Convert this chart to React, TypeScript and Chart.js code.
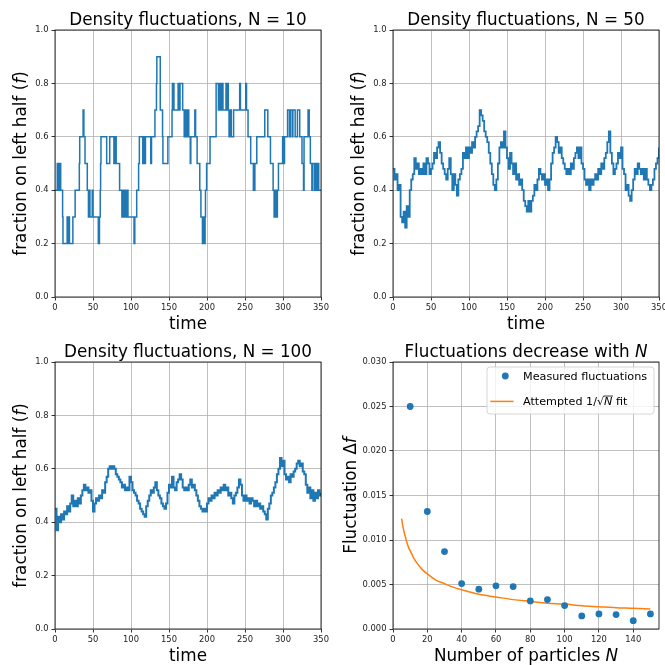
import React, { useEffect, useRef } from "react";
import { Chart, registerables } from "chart.js";
Chart.register(...registerables);

const FONT = '"DejaVu Sans", sans-serif';
const BLUE = "#1f77b4";
const ORANGE = "#ff7f0e";

// ---------- tick labels ----------
const timeTicks = [0, 50, 100, 150, 200, 250, 300, 350];
const fracTicks = [0, 0.2, 0.4, 0.6, 0.8, 1.0];
const particleTicks = [0, 20, 40, 60, 80, 100, 120, 140];
const flucTicks = [0, 0.005, 0.01, 0.015, 0.02, 0.025, 0.03];

// ---------- N = 10 (change points: value holds until next time) ----------
const times10 = [
  0, 3, 4, 4.5, 6, 6.5, 7.5, 10, 10.5, 16, 17, 18.5, 19, 23.5, 26.5, 32, 32.5, 37, 38, 39.5,
  42.5, 44, 45, 46, 49, 50, 57, 58.5, 59.5, 60, 60.5, 68, 72, 77.5, 78.5, 80.5, 85, 88, 89, 90.5,
  92, 93, 95, 96, 104, 105, 107.5, 110, 111, 115.5, 116.5, 118, 119, 126, 127, 131.5, 133.5, 134, 138.5, 141.5,
  142, 148.5, 154, 154.5, 156.5, 162, 164, 164.5, 168, 170, 172, 173, 175, 176, 178, 178.7, 184, 185, 187, 190.5,
  192, 194, 195, 195.5, 196.5, 197, 197.5, 198, 199.5, 204, 212, 215, 216, 218, 220, 221, 225, 226, 227, 228,
  229, 231, 232, 235, 243, 244, 251, 252, 254, 257.5, 261, 261.5, 262.5, 263, 265.5, 276, 280, 283.5, 287, 288.3,
  289, 289.5, 290.5, 291, 292.6, 294, 299.5, 301, 302, 306, 308.5, 309.5, 312, 313, 316, 319, 322, 325, 327, 327.7,
  333, 334.5, 336, 338, 338.5, 341, 342, 344, 345, 345.5, 346.5, 347, 350,
];
const values10 = [
  0.4, 0.5, 0.4, 0.5, 0.4, 0.5, 0.4, 0.3, 0.2, 0.3, 0.2, 0.3, 0.2, 0.3, 0.4, 0.5, 0.6, 0.7, 0.6, 0.5,
  0.4, 0.3, 0.4, 0.3, 0.4, 0.3, 0.2, 0.3, 0.4, 0.5, 0.6, 0.5, 0.6, 0.5, 0.6, 0.5, 0.4, 0.3, 0.4, 0.3,
  0.4, 0.3, 0.4, 0.3, 0.2, 0.3, 0.4, 0.5, 0.6, 0.5, 0.6, 0.5, 0.6, 0.5, 0.6, 0.7, 0.8, 0.9, 0.7, 0.6,
  0.5, 0.6, 0.7, 0.8, 0.7, 0.8, 0.7, 0.8, 0.7, 0.6, 0.7, 0.6, 0.7, 0.6, 0.5, 0.6, 0.7, 0.6, 0.5, 0.4,
  0.3, 0.2, 0.3, 0.2, 0.3, 0.2, 0.3, 0.4, 0.5, 0.6, 0.8, 0.7, 0.8, 0.7, 0.8, 0.7, 0.8, 0.7, 0.8, 0.7,
  0.6, 0.7, 0.6, 0.7, 0.8, 0.7, 0.8, 0.7, 0.6, 0.5, 0.4, 0.5, 0.4, 0.5, 0.6, 0.7, 0.6, 0.5, 0.4, 0.3,
  0.4, 0.3, 0.4, 0.3, 0.4, 0.5, 0.6, 0.5, 0.6, 0.7, 0.6, 0.7, 0.6, 0.7, 0.6, 0.7, 0.6, 0.5, 0.4, 0.6,
  0.7, 0.6, 0.5, 0.4, 0.5, 0.4, 0.5, 0.4, 0.5, 0.4, 0.5, 0.4, 0.4,
];

// ---------- N = 50 and N = 100 (sampled every 2 time units) ----------
const sampleStep = 2;
const values50 = [
  0.48, 0.44, 0.46, 0.40, 0.42, 0.30, 0.28, 0.32, 0.26, 0.34,
  0.30, 0.40, 0.44, 0.46, 0.52, 0.48, 0.50, 0.46, 0.48, 0.46,
  0.50, 0.46, 0.52, 0.50, 0.46, 0.48, 0.50, 0.54, 0.52, 0.56,
  0.58, 0.54, 0.50, 0.48, 0.46, 0.44, 0.48, 0.52, 0.46, 0.40,
  0.46, 0.42, 0.38, 0.44, 0.46, 0.48, 0.54, 0.52, 0.56, 0.52,
  0.56, 0.54, 0.58, 0.56, 0.60, 0.62, 0.64, 0.70, 0.68, 0.66,
  0.62, 0.60, 0.58, 0.54, 0.50, 0.46, 0.42, 0.40, 0.44, 0.50,
  0.56, 0.58, 0.56, 0.62, 0.56, 0.52, 0.48, 0.54, 0.50, 0.46,
  0.50, 0.44, 0.46, 0.42, 0.44, 0.40, 0.36, 0.34, 0.32, 0.36,
  0.32, 0.36, 0.38, 0.42, 0.40, 0.44, 0.48, 0.46, 0.44, 0.46,
  0.42, 0.44, 0.40, 0.44, 0.50, 0.54, 0.56, 0.60, 0.58, 0.54,
  0.56, 0.52, 0.50, 0.48, 0.46, 0.48, 0.46, 0.50, 0.48, 0.52,
  0.54, 0.56, 0.52, 0.56, 0.50, 0.48, 0.44, 0.42, 0.44, 0.40,
  0.44, 0.42, 0.44, 0.46, 0.44, 0.48, 0.46, 0.50, 0.48, 0.52,
  0.54, 0.58, 0.62, 0.54, 0.50, 0.46, 0.48, 0.50, 0.54, 0.52,
  0.56, 0.48, 0.46, 0.40, 0.42, 0.38, 0.36, 0.40, 0.44, 0.48,
  0.46, 0.50, 0.48, 0.46, 0.48, 0.44, 0.48, 0.44, 0.42, 0.40,
  0.42, 0.44, 0.48, 0.50, 0.52, 0.56,
];
const values100 = [
  0.45, 0.37, 0.42, 0.40, 0.43, 0.41, 0.44, 0.43, 0.46, 0.44,
  0.47, 0.50, 0.46, 0.48, 0.46, 0.49, 0.47, 0.50, 0.52, 0.54,
  0.52, 0.53, 0.51, 0.52, 0.48, 0.44, 0.47, 0.49, 0.48, 0.50,
  0.49, 0.52, 0.51, 0.55, 0.57, 0.60, 0.61, 0.60, 0.61, 0.60,
  0.58, 0.57, 0.56, 0.55, 0.53, 0.54, 0.52, 0.53, 0.52, 0.57,
  0.55, 0.52, 0.51, 0.50, 0.48, 0.47, 0.45, 0.44, 0.43, 0.42,
  0.46, 0.48, 0.50, 0.52, 0.51, 0.53, 0.55, 0.52, 0.50, 0.49,
  0.47, 0.46, 0.45, 0.47, 0.51, 0.54, 0.53, 0.57, 0.53, 0.52,
  0.55, 0.56, 0.58, 0.56, 0.53, 0.52, 0.53, 0.52, 0.54, 0.56,
  0.53, 0.54, 0.52, 0.50, 0.48, 0.46, 0.45, 0.44, 0.45, 0.44,
  0.47, 0.49, 0.48, 0.50, 0.49, 0.51, 0.50, 0.52, 0.51, 0.53,
  0.52, 0.54, 0.52, 0.53, 0.50, 0.51, 0.49, 0.47, 0.50, 0.51,
  0.53, 0.56, 0.54, 0.50, 0.48, 0.50, 0.48, 0.49, 0.47, 0.49,
  0.48, 0.46, 0.48, 0.46, 0.47, 0.45, 0.46, 0.44, 0.43, 0.41,
  0.45, 0.47, 0.50, 0.51, 0.53, 0.55, 0.58, 0.60, 0.64, 0.61,
  0.63, 0.58, 0.56, 0.57, 0.55, 0.58, 0.57, 0.59, 0.60, 0.62,
  0.63, 0.61, 0.62, 0.59, 0.58, 0.54, 0.51, 0.53, 0.49, 0.52,
  0.48, 0.51, 0.49, 0.52, 0.50, 0.51,
];

// ---------- fluctuations vs N ----------
const particleCounts = [10, 20, 30, 40, 50, 60, 70, 80, 90, 100, 110, 120, 130, 140, 150];
const measuredFluct = [
  0.0250, 0.0132, 0.0087, 0.0051, 0.00447, 0.00485, 0.00477, 0.00316, 0.00331, 0.00263,
  0.00147, 0.00169, 0.00162, 0.00094, 0.00169,
];
const fitCounts = [5, 6, 7, 8, 9, 10, 12, 14, 16, 18, 20, 25, 30, 35, 40, 50, 60, 70, 80, 90, 100, 110, 120, 130, 140, 150];
const fitFluct = [
  0.0124, 0.0113, 0.0105, 0.0098, 0.0092, 0.0088, 0.0080, 0.0074, 0.0069, 0.0065,
  0.0062, 0.0055, 0.0051, 0.0047, 0.0044, 0.0039, 0.0036, 0.0033, 0.0031, 0.0029,
  0.0028, 0.0026, 0.0025, 0.0024, 0.00234, 0.00226,
];

type Run = { t: string; i?: boolean; over?: boolean };

const legendLabels: Run[][] = [
  [{ t: "Measured fluctuations" }],
  [{ t: "Attempted 1/√" }, { t: "N", i: true, over: true }, { t: " fit" }],
];

function fontStr(size: number, italic?: boolean) {
  return `${italic ? "italic " : ""}${size}px ${FONT}`;
}

function drawRuns(ctx: CanvasRenderingContext2D, runs: Run[], size: number, x: number, y: number, rot: number, align: "center" | "left") {
  ctx.save();
  ctx.translate(x, y);
  if (rot) ctx.rotate(rot);
  ctx.textBaseline = "alphabetic";
  ctx.textAlign = "left";
  ctx.fillStyle = "#000";
  let total = 0;
  for (const r of runs) {
    ctx.font = fontStr(size, r.i);
    total += ctx.measureText(r.t).width;
  }
  let cx = align === "center" ? -total / 2 : 0;
  for (const r of runs) {
    ctx.font = fontStr(size, r.i);
    const w = ctx.measureText(r.t).width;
    ctx.fillText(r.t, cx, 0);
    if (r.over) {
      ctx.beginPath();
      ctx.moveTo(cx - 0.5, -0.8 * size);
      ctx.lineTo(cx + w + 0.5, -0.8 * size);
      ctx.lineWidth = 0.8;
      ctx.strokeStyle = "#000";
      ctx.stroke();
    }
    cx += w;
  }
  ctx.restore();
}

function drawLegend(ctx: CanvasRenderingContext2D, a: any) {
  const fs = 11.2;
  const w = 167;
  const h = 47;
  const right = a.right - 5;
  const top = a.top + 5;
  const left = right - w;
  ctx.save();
  ctx.beginPath();
  (ctx as any).roundRect(left, top, w, h, 3);
  ctx.fillStyle = "rgba(255,255,255,0.8)";
  ctx.fill();
  ctx.strokeStyle = "#cccccc";
  ctx.lineWidth = 0.8;
  ctx.stroke();
  ctx.beginPath();
  ctx.arc(left + 18.3, top + 9, 3.4, 0, Math.PI * 2);
  ctx.fillStyle = BLUE;
  ctx.fill();
  drawRuns(ctx, legendLabels[0], fs, left + 36, top + 13, 0, "left");
  ctx.beginPath();
  ctx.moveTo(left + 3.3, top + 34.4);
  ctx.lineTo(left + 26.6, top + 34.4);
  ctx.strokeStyle = ORANGE;
  ctx.lineWidth = 1.5;
  ctx.stroke();
  drawRuns(ctx, legendLabels[1], fs, left + 36, top + 38, 0, "left");
  ctx.restore();
}

type Spec = {
  datasets: any[];
  xMin: number; xMax: number; xTicks: number[]; xDec: number;
  yMin: number; yMax: number; yTicks: number[]; yDec: number;
  title: Run[]; xLabel: Run[]; yLabel: Run[]; yLabelGap: number; legend?: boolean;
};

function buildChart(canvas: HTMLCanvasElement, spec: Spec) {
  const decor = {
    id: "decor",
    afterDatasetsDraw(chart: any) {
      const { ctx, chartArea: a } = chart;
      ctx.save();
      ctx.strokeStyle = "#000";
      ctx.lineWidth = 0.8;
      ctx.strokeRect(a.left, a.top, a.right - a.left, a.bottom - a.top);
      ctx.restore();
    },
    afterDraw(chart: any) {
      const { ctx, chartArea: a } = chart;
      const cx = (a.left + a.right) / 2;
      const cy = (a.top + a.bottom) / 2;
      drawRuns(ctx, spec.title, 16.8, cx, a.top - 5, 0, "center");
      drawRuns(ctx, spec.xLabel, 16.8, cx, a.bottom + 32.3, 0, "center");
      drawRuns(ctx, spec.yLabel, 16.8, a.left - spec.yLabelGap, cy, -Math.PI / 2, "center");
      if (spec.legend) drawLegend(ctx, a);
    },
  };
  const tickFont = { family: FONT, size: 8.4 };
  const grid = { color: "#b0b0b0", lineWidth: 0.8, tickLength: 3.5, tickColor: "#000", drawTicks: true };
  return new Chart(canvas, {
    type: "line",
    data: { datasets: spec.datasets },
    options: {
      animation: false,
      responsive: false,
      events: [],
      layout: { padding: { top: 30, left: 0, right: 9, bottom: 0 } },
      plugins: { legend: { display: false }, tooltip: { enabled: false }, title: { display: false } },
      scales: {
        x: {
          type: "linear",
          min: spec.xMin,
          max: spec.xMax,
          afterBuildTicks: (s: any) => { s.ticks = spec.xTicks.map((v) => ({ value: v })); },
          afterFit: (s: any) => { s.height = 43; s.paddingLeft = 0; s.paddingRight = 0; },
          ticks: { font: tickFont, color: "#222", padding: 2, maxRotation: 0, autoSkip: false, callback: (v: any) => Number(v).toFixed(spec.xDec) },
          grid,
          border: { display: false },
        },
        y: {
          type: "linear",
          min: spec.yMin,
          max: spec.yMax,
          afterBuildTicks: (s: any) => { s.ticks = spec.yTicks.map((v) => ({ value: v })); },
          afterFit: (s: any) => { s.width = 55; s.paddingTop = 0; s.paddingBottom = 0; },
          ticks: { font: tickFont, color: "#222", padding: 3, autoSkip: false, callback: (v: any) => Number(v).toFixed(spec.yDec) },
          grid,
          border: { display: false },
        },
      },
    } as any,
    plugins: [decor],
  });
}

function stepLine(times: number[], values: number[], label: string, width: number) {
  return {
    label,
    data: times.map((t, i) => ({ x: t, y: values[i] })),
    borderColor: BLUE,
    backgroundColor: BLUE,
    borderWidth: width,
    pointRadius: 0,
    stepped: "before",
    fill: false,
  };
}

function sampled(values: number[], label: string, width: number) {
  return stepLine(values.map((_, i) => i * sampleStep), values, label, width);
}

const fracLabel: Run[] = [{ t: "fraction on left half (" }, { t: "f", i: true }, { t: ")" }];
const timeLabel: Run[] = [{ t: "time" }];

const specs: { spec: Spec; left: number; top: number }[] = [
  {
    left: 0, top: 0,
    spec: {
      datasets: [stepLine(times10, values10, "N = 10", 1.5)],
      xMin: 0, xMax: 350, xTicks: timeTicks, xDec: 0,
      yMin: 0, yMax: 1, yTicks: fracTicks, yDec: 1,
      title: [{ t: "Density fluctuations, N = 10" }], xLabel: timeLabel, yLabel: fracLabel, yLabelGap: 29,
    },
  },
  {
    left: 338, top: 0,
    spec: {
      datasets: [sampled(values50, "N = 50", 1.8)],
      xMin: 0, xMax: 350, xTicks: timeTicks, xDec: 0,
      yMin: 0, yMax: 1, yTicks: fracTicks, yDec: 1,
      title: [{ t: "Density fluctuations, N = 50" }], xLabel: timeLabel, yLabel: fracLabel, yLabelGap: 29,
    },
  },
  {
    left: 0, top: 332,
    spec: {
      datasets: [sampled(values100, "N = 100", 2)],
      xMin: 0, xMax: 350, xTicks: timeTicks, xDec: 0,
      yMin: 0, yMax: 1, yTicks: fracTicks, yDec: 1,
      title: [{ t: "Density fluctuations, N = 100" }], xLabel: timeLabel, yLabel: fracLabel, yLabelGap: 29,
    },
  },
  {
    left: 338, top: 332,
    spec: {
      datasets: [
        {
          label: "Measured fluctuations",
          data: particleCounts.map((n, i) => ({ x: n, y: measuredFluct[i] })),
          showLine: false,
          pointRadius: 3.4,
          pointBorderWidth: 0,
          pointBackgroundColor: BLUE,
          borderColor: BLUE,
          backgroundColor: BLUE,
        },
        {
          label: "Attempted 1/√N fit",
          data: fitCounts.map((n, i) => ({ x: n, y: fitFluct[i] })),
          borderColor: ORANGE,
          backgroundColor: ORANGE,
          borderWidth: 1.5,
          pointRadius: 0,
          cubicInterpolationMode: "monotone",
          fill: false,
        },
      ],
      xMin: 0, xMax: 155, xTicks: particleTicks, xDec: 0,
      yMin: 0, yMax: 0.03, yTicks: flucTicks, yDec: 3,
      title: [{ t: "Fluctuations decrease with " }, { t: "N", i: true }],
      xLabel: [{ t: "Number of particles " }, { t: "N", i: true }],
      yLabel: [{ t: "Fluctuation Δ" }, { t: "f", i: true }],
      yLabelGap: 36.6,
      legend: true,
    },
  },
];

function Panel({ spec, left, top }: { spec: Spec; left: number; top: number }) {
  const ref = useRef<HTMLCanvasElement | null>(null);
  useEffect(() => {
    if (!ref.current) return;
    const c = buildChart(ref.current, spec);
    return () => c.destroy();
  }, []);
  return (
    <canvas
      ref={ref}
      width={330}
      height={340}
      style={{ position: "absolute", left, top, width: 330, height: 340 }}
    />
  );
}

export default function App() {
  return (
    <div style={{ position: "absolute", left: 0, top: 0, width: 665, height: 665, overflow: "hidden", background: "#fff" }}>
      {specs.map((p, i) => (
        <Panel key={i} spec={p.spec} left={p.left} top={p.top} />
      ))}
    </div>
  );
}
